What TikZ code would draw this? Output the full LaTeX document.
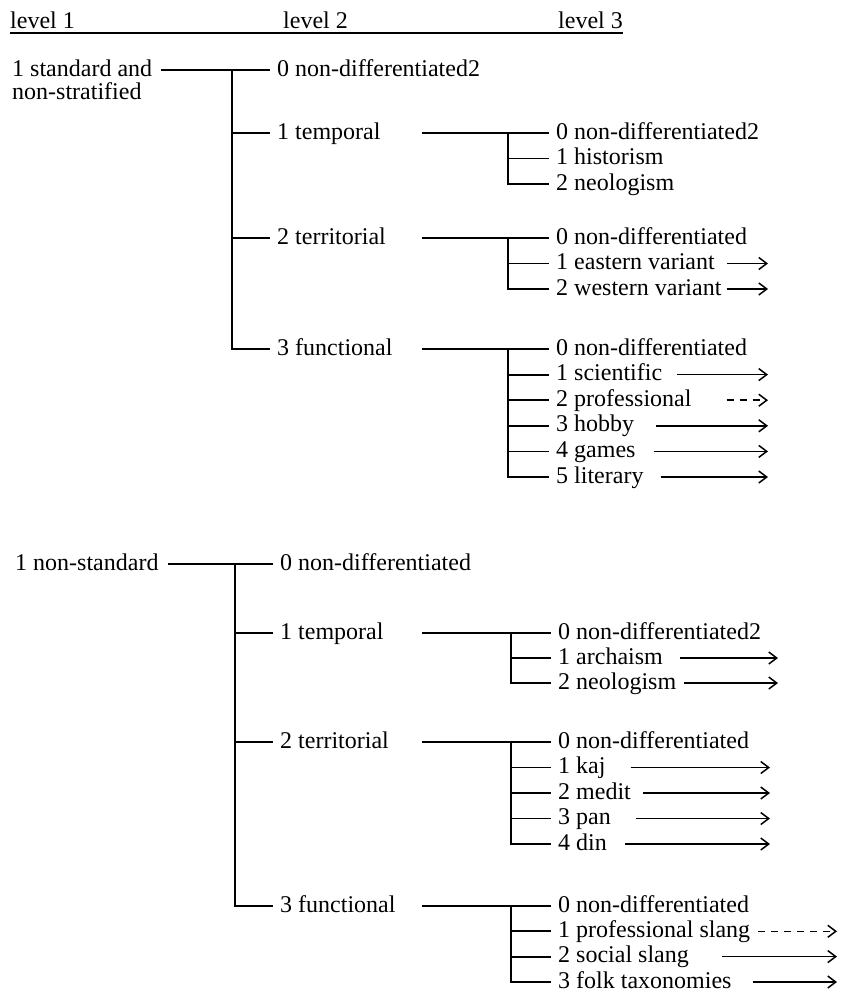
\documentclass[tikz,border=0pt]{standalone}
\usepackage{fontspec}
\setmainfont{Liberation Serif}
\usetikzlibrary{arrows.meta}

\begin{document}
\begin{tikzpicture}[x=1bp, y=-1bp, font=\fontsize{24bp}{20bp}\selectfont,
  >={Straight Barb[length=8bp,width=12bp]},
  lbl/.style={anchor=west, inner sep=0pt, text height=12bp, text depth=0pt},
  branch/.style={line width=1.8bp, shorten >=7bp},
  arr/.style={line width=1.5bp, ->},
  darr/.style={arr, dash pattern=on 7bp off 6bp}]
\useasboundingbox (0,0) rectangle (843,1007);
% Headings
\node[anchor=base west, inner sep=0pt] (lv1) at (10,28) {level 1};
\node[anchor=base west, inner sep=0pt] (lv2) at (283,28) {level 2};
\node[anchor=base west, inner sep=0pt] (lv3) at (558,28) {level 3};
\draw[line width=1.2bp] ([yshift=-5bp]lv1.base west) -- ([yshift=-5bp]lv3.base east);
% Column guides
\coordinate (trA) at (232,70);
\coordinate (trB) at (235,564);
\coordinate (l3s) at (422,0);
\coordinate (jnA) at (508,0);
\coordinate (jnB) at (511,0);
\coordinate (endA) at (768,0);
\coordinate (endB) at (778,0);
\coordinate (endC) at (770,0);
\coordinate (endD) at (837,0);
% Standard block
\node[lbl] (std) at (12,70) {1 standard and};
\node[lbl, anchor=base west] (stdb) at ([yshift=-23bp]std.base west) {non-stratified};
\node[lbl] (aNd) at (277,70) {0 non-differentiated2};
\node[lbl] (aTmp) at (277,133) {1 temporal};
\node[lbl] (aTer) at (277,238) {2 territorial};
\node[lbl] (aFun) at (277,349) {3 functional};
\node[lbl] (aTmp0) at (556,133) {0 non-differentiated2};
\node[lbl] (aTmp1) at (556,158.5) {1 historism};
\node[lbl] (aTmp2) at (556,184) {2 neologism};
\node[lbl] (aTer0) at (556,238) {0 non-differentiated};
\node[lbl] (aTer1) at (556,263.5) {1 eastern variant};
\node[lbl] (aTer2) at (556,289) {2 western variant};
\node[lbl] (aFun0) at (556,349) {0 non-differentiated};
\node[lbl] (aFun1) at (556,374.6) {1 scientific};
\node[lbl] (aFun2) at (556,400.2) {2 professional};
\node[lbl] (aFun3) at (556,425.8) {3 hobby};
\node[lbl] (aFun4) at (556,451.4) {4 games};
\node[lbl] (aFun5) at (556,477) {5 literary};
\draw[branch] ([xshift=9bp]std.east) -- (aNd.west);
\draw[branch] (trA) |- (aTmp.west);
\draw[branch] (trA) |- (aTer.west);
\draw[branch] (trA) |- (aFun.west);
\draw[branch] (aTmp.east -| l3s) -- (aTmp0.west);
\draw[branch] (aTmp0.west -| jnA) |- (aTmp1.west);
\draw[branch] (aTmp0.west -| jnA) |- (aTmp2.west);
\draw[branch] (aTer.east -| l3s) -- (aTer0.west);
\draw[branch] (aTer0.west -| jnA) |- (aTer1.west);
\draw[branch] (aTer0.west -| jnA) |- (aTer2.west);
\draw[branch] (aFun.east -| l3s) -- (aFun0.west);
\draw[branch] (aFun0.west -| jnA) |- (aFun1.west);
\draw[branch] (aFun0.west -| jnA) |- (aFun2.west);
\draw[branch] (aFun0.west -| jnA) |- (aFun3.west);
\draw[branch] (aFun0.west -| jnA) |- (aFun4.west);
\draw[branch] (aFun0.west -| jnA) |- (aFun5.west);
\draw[arr] ([xshift=12bp]aTer1.east) -- (aTer1.east -| endA);
\draw[arr] ([xshift=5bp]aTer2.east) -- (aTer2.east -| endA);
\draw[arr] ([xshift=15bp]aFun1.east) -- (aFun1.east -| endA);
\draw[darr] ([xshift=35bp]aFun2.east) -- (aFun2.east -| endA);
\draw[arr] ([xshift=22bp]aFun3.east) -- (aFun3.east -| endA);
\draw[arr] ([xshift=18bp]aFun4.east) -- (aFun4.east -| endA);
\draw[arr] ([xshift=17bp]aFun5.east) -- (aFun5.east -| endA);
% Non-standard block
\node[lbl] (nst) at (15,564) {1 non-standard};
\node[lbl] (bNd) at (280,564) {0 non-differentiated};
\node[lbl] (bTmp) at (280,633) {1 temporal};
\node[lbl] (bTer) at (280,742) {2 territorial};
\node[lbl] (bFun) at (280,906) {3 functional};
\node[lbl] (bTmp0) at (558,633) {0 non-differentiated2};
\node[lbl] (bTmp1) at (558,658) {1 archaism};
\node[lbl] (bTmp2) at (558,683) {2 neologism};
\node[lbl] (bTer0) at (558,742) {0 non-differentiated};
\node[lbl] (bTer1) at (558,767.5) {1 kaj};
\node[lbl] (bTer2) at (558,793) {2 medit};
\node[lbl] (bTer3) at (558,818.5) {3 pan};
\node[lbl] (bTer4) at (558,844) {4 din};
\node[lbl] (bFun0) at (558,906) {0 non-differentiated};
\node[lbl] (bFun1) at (558,931.3) {1 professional slang};
\node[lbl] (bFun2) at (558,956.6) {2 social slang};
\node[lbl] (bFun3) at (558,982) {3 folk taxonomies};
\draw[branch] ([xshift=9bp]nst.east) -- (bNd.west);
\draw[branch] (trB) |- (bTmp.west);
\draw[branch] (trB) |- (bTer.west);
\draw[branch] (trB) |- (bFun.west);
\draw[branch] (bTmp.east -| l3s) -- (bTmp0.west);
\draw[branch] (bTmp0.west -| jnB) |- (bTmp1.west);
\draw[branch] (bTmp0.west -| jnB) |- (bTmp2.west);
\draw[branch] (bTer.east -| l3s) -- (bTer0.west);
\draw[branch] (bTer0.west -| jnB) |- (bTer1.west);
\draw[branch] (bTer0.west -| jnB) |- (bTer2.west);
\draw[branch] (bTer0.west -| jnB) |- (bTer3.west);
\draw[branch] (bTer0.west -| jnB) |- (bTer4.west);
\draw[branch] (bFun.east -| l3s) -- (bFun0.west);
\draw[branch] (bFun0.west -| jnB) |- (bFun1.west);
\draw[branch] (bFun0.west -| jnB) |- (bFun2.west);
\draw[branch] (bFun0.west -| jnB) |- (bFun3.west);
\draw[arr] ([xshift=17bp]bTmp1.east) -- (bTmp1.east -| endB);
\draw[arr] ([xshift=8bp]bTmp2.east) -- (bTmp2.east -| endB);
\draw[arr] ([xshift=25bp]bTer1.east) -- (bTer1.east -| endC);
\draw[arr] ([xshift=12bp]bTer2.east) -- (bTer2.east -| endC);
\draw[arr] ([xshift=25bp]bTer3.east) -- (bTer3.east -| endC);
\draw[arr] ([xshift=18bp]bTer4.east) -- (bTer4.east -| endC);
\draw[darr] ([xshift=8bp]bFun1.east) -- (bFun1.east -| endD);
\draw[arr] ([xshift=33bp]bFun2.east) -- (bFun2.east -| endD);
\draw[arr] ([xshift=21bp]bFun3.east) -- (bFun3.east -| endD);
\end{tikzpicture}
\end{document}
